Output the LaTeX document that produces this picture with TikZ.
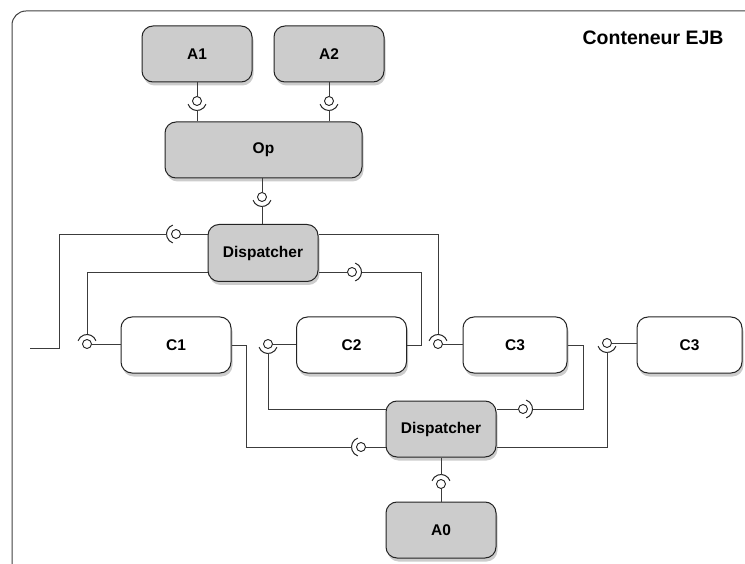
\documentclass[tikz,border=0pt]{standalone}
\usepackage{fontspec}
\setmainfont{Liberation Sans}
\usetikzlibrary{positioning, calc, shadows}
\definecolor{boxGray}{RGB}{204, 204, 204}
\definecolor{edgeGray}{RGB}{35, 35, 35}
\definecolor{wireGray}{RGB}{60, 60, 60}

% socket arc round a ball node: #1 = ball, #2 = side of the requiring part
\newcommand{\socket}[2]{%
  \draw[sock] ($(#1.center)+(#2-70:9.5pt)$)
        arc[start angle=#2-70, end angle=#2+70, radius=9.5pt];
  \coordinate (#1s) at ($(#1.center)+(#2:9.5pt)$);}

\begin{document}
\begin{tikzpicture}[
    x=1pt, y=-1pt,
    comp/.style={draw=edgeGray, fill=boxGray, line width=1pt, rounded corners=11pt,
                 minimum width=110pt, minimum height=56pt,
                 font=\fontsize{15.5}{18}\selectfont\bfseries,
                 drop shadow={shadow xshift=1.5pt, shadow yshift=-3.5pt, opacity=0.4}},
    part/.style={comp, fill=white},
    ball/.style={circle, draw=edgeGray, fill=white, line width=0.9pt,
                 inner sep=0pt, minimum size=9pt},
    sock/.style={draw=edgeGray, line width=1pt},
    wire/.style={draw=wireGray, line width=0.8pt},
    frame/.style={draw=black!75, line width=1pt, rounded corners=14pt},
    title/.style={font=\fontsize{19.5}{23}\selectfont\bfseries}
  ]
  \useasboundingbox (0,0) rectangle (745,564);
  \clip (0,0) rectangle (745,564);

  % ── Container ─────────────────────────────────────────────────────────────
  \draw[frame] (12,11) rectangle (760,578);
  \node[title, anchor=base east] (ttl) at (727,45) {Conteneur EJB};

  % ── Components ────────────────────────────────────────────────────────────
  \node[comp] (a1)    at (197, 54)   {A1};
  \node[comp] (a2)    at (329, 54)   {A2};
  \node[comp, minimum width=197pt] (op) at (263.5, 150) {Op};
  \node[comp, minimum height=57pt] (disp1) at (263, 253) {Dispatcher};
  \node[part] (c1)    at (176, 345)  {C1};
  \node[part] (c2)    at (351.5, 345) {C2};
  \node[part, minimum width=104pt] (c3)  at (515, 345)   {C3};
  \node[part, minimum width=105pt] (c3b) at (689.5, 345) {C3};
  \node[comp] (disp2) at (441, 429)  {Dispatcher};
  \node[comp] (a0)    at (441, 530)  {A0};

  \coordinate (ext) at (30, 348);

  % ── Provided interfaces (balls) ───────────────────────────────────────────
  \node[ball] (i1)  at (197, 101) {};
  \node[ball] (i2)  at (329, 101) {};
  \node[ball] (i3)  at (262, 197) {};
  \node[ball] (i4)  at (176, 234) {};
  \node[ball] (i5)  at (87, 344)  {};
  \node[ball] (i6)  at (352, 272) {};
  \node[ball] (i7)  at (438, 344) {};
  \node[ball] (i8)  at (268, 344) {};
  \node[ball] (i9)  at (361, 447) {};
  \node[ball] (i10) at (523, 409) {};
  \node[ball] (i11) at (607, 343) {};
  \node[ball] (i12) at (441, 484) {};

  % ── Required interfaces (sockets) ─────────────────────────────────────────
  \socket{i1}{270}
  \socket{i2}{270}
  \socket{i3}{270}
  \socket{i4}{180}
  \socket{i5}{90}
  \socket{i6}{0}
  \socket{i7}{90}
  \socket{i8}{270}
  \socket{i9}{180}
  \socket{i10}{0}
  \socket{i11}{270}
  \socket{i12}{90}

  % provider side: part -- ball
  \draw[wire] (a1) -- (i1);
  \draw[wire] (a2) -- (i2);
  \draw[wire] (i3) -- (i3 |- op.south);
  \draw[wire] (i4) -- (i4 -| disp1.west);
  \draw[wire] (i5) -- (i5 -| c1.west);
  \draw[wire] (i6) -- (i6 -| disp1.east);
  \draw[wire] (i7) -- (i7 -| c3.west);
  \draw[wire] (i8) -- (i8 -| c2.west);
  \draw[wire] (i9) -- (i9 -| disp2.west);
  \draw[wire] (i10) -- (i10 -| disp2.east);
  \draw[wire] (i11) -- (i11 -| c3b.west);
  \draw[wire] (i12) -- (i12 |- a0.north);

  % requirer side: socket -- part
  \draw[wire] (i1s) -- (i1s |- op.north);
  \draw[wire] (i2s) -- (i2s |- op.north);
  \draw[wire] (i3s) -- (i3s |- disp1.north);
  \draw[wire] (i4s) -| ([xshift=29pt]ext) -- (ext);
  \draw[wire] (i5s) |- (i6 -| disp1.west);
  \draw[wire] (i6s) -| ([xshift=14pt]c2.east) -- (c2.east);
  \draw[wire] (i7s) |- (i4 -| disp1.east);
  \draw[wire] (i8s) |- (i10 -| disp2.west);
  \draw[wire] (i9s) -| ([xshift=15pt]c1.east) -- (c1.east);
  \draw[wire] (i10s) -| ([xshift=16pt]c3.east) -- (c3.east);
  \draw[wire] (i11s) |- (i9 -| disp2.east);
  \draw[wire] (i12s) -- (i12s |- disp2.south);

\end{tikzpicture}
\end{document}
